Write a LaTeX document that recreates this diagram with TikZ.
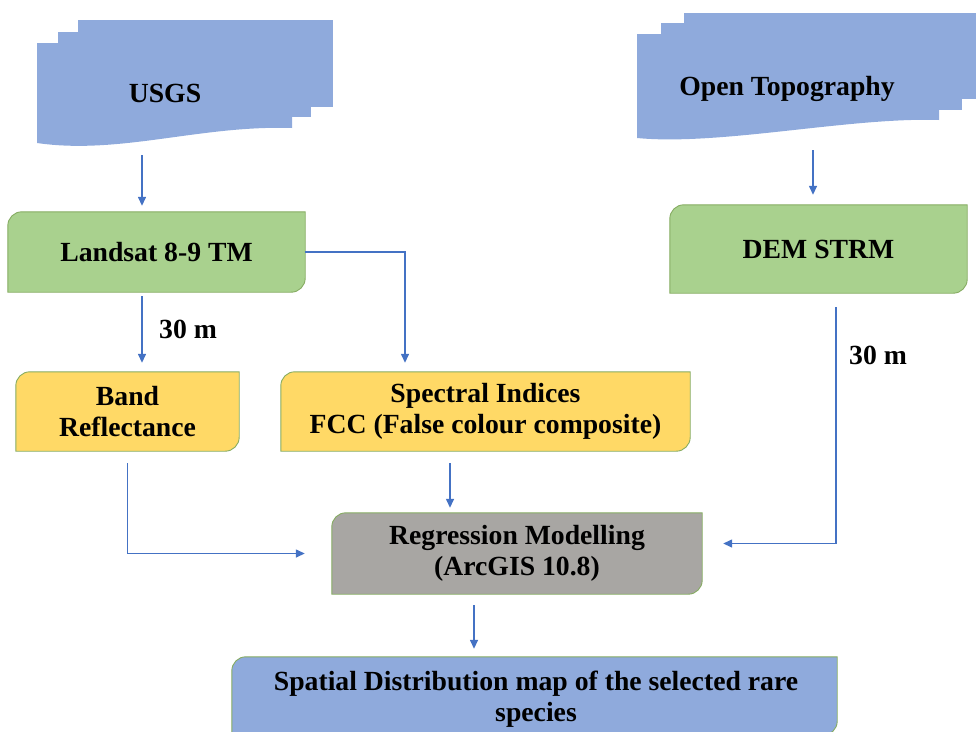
\documentclass[tikz,border=0pt]{standalone}
\usepackage{fontspec}
\setmainfont{Liberation Serif}
\usetikzlibrary{arrows.meta,backgrounds}
\definecolor{docblue}{HTML}{8FAADC}
\definecolor{boxgreen}{HTML}{A9D18E}
\definecolor{boxyellow}{HTML}{FFD966}
\definecolor{boxgray}{HTML}{A8A6A3}
\definecolor{boxborder}{HTML}{86AC62}
\definecolor{arrowblue}{HTML}{4472C4}
\newcommand{\snipbox}[2]{%
  \fill[#2,draw=boxborder,line width=0.9pt]
    (#1.south west) -- ([yshift=-14pt]#1.north west)
    arc[start angle=180,end angle=90,radius=14pt]
    -- (#1.north east) -- ([yshift=14pt]#1.south east)
    arc[start angle=0,end angle=-90,radius=14pt] -- cycle;}
\begin{document}
\begin{tikzpicture}[x=1pt,y=-1pt,
  lbl/.style={font=\fontsize{27.7}{31}\selectfont\bfseries,text=black,align=center,inner sep=0pt},
  boxnode/.style={lbl,minimum width=#1,minimum height=80pt},
  arr/.style={draw=arrowblue,line width=1.4pt,-{Triangle[length=9pt,width=8pt]}},
  ln/.style={draw=arrowblue,line width=1.4pt}]
\useasboundingbox (0,0) rectangle (976,731);
\clip (0,0) rectangle (976,731);

% multi-document shapes
\fill[docblue] (78,20) rectangle (333,107);
\fill[docblue] (58,32) rectangle (311,117);
\fill[docblue] (37,43) -- (292,43) -- (292,128) .. controls (200,125) and (120,155) .. (37,143) -- cycle;
\fill[docblue] (684,13) rectangle (980,99);
\fill[docblue] (661,23) rectangle (962,110);
\fill[docblue] (637,34) -- (939,34) -- (939,120) .. controls (850,117) and (720,146) .. (637,138) -- cycle;

\node[lbl,anchor=base] (usgs) at (165,102) {USGS};
\node[lbl,anchor=base] (opentopo) at (787,95) {Open Topography};

% boxes
\node[boxnode=297pt] (landsat) at (156.5,252) {Landsat 8-9 TM};
\node[boxnode=297pt,minimum height=88pt] (dem) at (818.5,249) {DEM STRM};
\node[boxnode=223pt,minimum height=79pt] (band) at (127.5,411.5) {Band\\Reflectance};
\node[boxnode=409pt,minimum height=79pt] (spectral) at (485.5,411.5) {Spectral Indices\\FCC (False colour composite)};
\node[boxnode=370pt,minimum height=81pt] (regr) at (517,553.5) {Regression Modelling\\(ArcGIS 10.8)};
\node[boxnode=605pt,minimum height=78pt] (spatial) at (534.5,696) {};
\node[lbl] (spatialtxt) at (536,699) {Spatial Distribution map of the selected rare\\species};

\node[lbl] (lblA) at (188,329) {30 m};
\node[lbl] (lblB) at (878,355) {30 m};

\begin{scope}[on background layer]
  \snipbox{landsat}{boxgreen}
  \snipbox{dem}{boxgreen}
  \snipbox{band}{boxyellow}
  \snipbox{spectral}{boxyellow}
  \snipbox{regr}{boxgray}
  \snipbox{spatial}{docblue}
\end{scope}

\coordinate (xa) at (142,0);
\coordinate (xb) at (405,0);
\coordinate (xc) at (450,0);
\coordinate (xd) at (836,0);
\coordinate (xe) at (813,0);
\coordinate (xf) at (474,0);

\draw[arr] ([yshift=-53pt]usgs.base -| xa) -- ([yshift=6pt]landsat.north -| xa);
\draw[arr] ([yshift=-55pt]opentopo.base -| xe) -- ([yshift=10pt]dem.north -| xe);
\draw[arr] ([yshift=-4pt]landsat.south -| xa) -- ([yshift=9pt]band.north -| xa);
\draw[arr] (landsat.east) -| ([yshift=9pt]spectral.north -| xb);
\draw[arr] ([yshift=-12pt]spectral.south -| xc) -- ([yshift=5pt]regr.north -| xc);
\draw[arr] ([yshift=-12pt]band.south) |- ([xshift=-27pt]regr.west);
\draw[arr] ([yshift=-14pt]dem.south -| xd) |- ([xshift=21pt,yshift=10pt]regr.east);
\draw[arr] ([yshift=-11pt]regr.south -| xf) -- ([yshift=8pt]spatial.north -| xf);
\end{tikzpicture}
\end{document}
